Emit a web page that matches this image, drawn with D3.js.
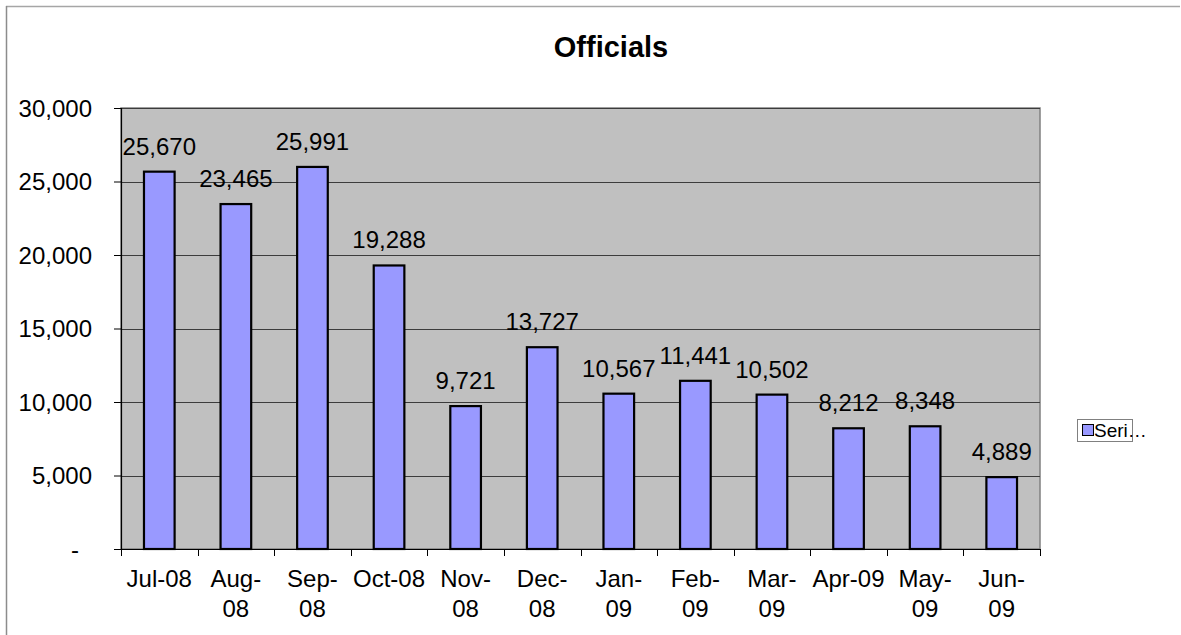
<!DOCTYPE html>
<html>
<head>
<meta charset="utf-8">
<script src="https://cdn.jsdelivr.net/npm/d3@7"></script>
<style>
  html, body { margin: 0; padding: 0; background: #fff; }
  svg { display: block; font-family: "Liberation Sans", Arial, sans-serif; }
</style>
</head>
<body>
<svg id="chart" width="1181" height="635"></svg>
<script>
// Monthly counts of officials, July 2008 – June 2009
const categories = ["Jul-08", "Aug-08", "Sep-08", "Oct-08", "Nov-08", "Dec-08",
                    "Jan-09", "Feb-09", "Mar-09", "Apr-09", "May-09", "Jun-09"];
const values = [25670, 23465, 25991, 19288, 9721, 13727,
                10567, 11441, 10502, 8212, 8348, 4889];
// Category labels as they wrap under each bar
const tickLines = [["Jul-08"], ["Aug-", "08"], ["Sep-", "08"], ["Oct-08"], ["Nov-", "08"], ["Dec-", "08"],
                   ["Jan-", "09"], ["Feb-", "09"], ["Mar-", "09"], ["Apr-09"], ["May-", "09"], ["Jun-", "09"]];
const yTicks = [0, 5000, 10000, 15000, 20000, 25000, 30000];
const seriesName = "Series1";
const title = "Officials";

const FS = 24; // body text size

const svg = d3.select("#chart");
const plot = { left: 121, right: 1040, top: 108, bottom: 549 };

// Outer chart frame
svg.append("line").attr("x1", 6).attr("y1", 6.5).attr("x2", 1180).attr("y2", 6.5)
  .attr("stroke", "#a6a6a6").attr("stroke-width", 1.5);
svg.append("line").attr("x1", 6.5).attr("y1", 6).attr("x2", 6.5).attr("y2", 635)
  .attr("stroke", "#8c8c8c").attr("stroke-width", 1.5);

const x = d3.scaleBand().domain(categories).range([plot.left, plot.right]).paddingInner(0.6).paddingOuter(0.3);
const xCat = d3.scaleBand().domain(categories).range([plot.left, plot.right]);
const y = d3.scaleLinear().domain([0, 30000]).range([plot.bottom, plot.top]);

// Plot background
svg.append("rect")
  .attr("x", plot.left).attr("y", plot.top)
  .attr("width", plot.right - plot.left).attr("height", plot.bottom - plot.top)
  .attr("fill", "#c0c0c0").attr("stroke", "#808080").attr("stroke-width", 1.5);

// Horizontal gridlines
svg.append("g").selectAll("line")
  .data(yTicks.filter(d => d > 0))
  .join("line")
  .attr("x1", plot.left).attr("x2", plot.right)
  .attr("y1", d => Math.round(y(d)) + 0.5).attr("y2", d => Math.round(y(d)) + 0.5)
  .attr("stroke", "#3c3c3c").attr("stroke-width", 1);

// Bars
svg.append("g").selectAll("rect")
  .data(values)
  .join("rect")
  .attr("x", (d, i) => x(categories[i]))
  .attr("y", d => y(d))
  .attr("width", x.bandwidth())
  .attr("height", d => y(0) - y(d))
  .attr("fill", "#9999ff")
  .attr("stroke", "#000").attr("stroke-width", 2.2);

// Value labels
const fmt = d3.format(",");
svg.append("g").selectAll("text")
  .data(values)
  .join("text")
  .attr("x", (d, i) => x(categories[i]) + x.bandwidth() / 2)
  .attr("y", d => y(d) - 17)
  .attr("text-anchor", "middle")
  .attr("font-size", FS)
  .attr("fill", "#000")
  .text(d => fmt(d));

// Y axis
const yAxis = d3.axisLeft(y).tickValues(yTicks).tickSize(7).tickPadding(22)
  .tickFormat(d => d === 0 ? "-" : fmt(d));
const gy = svg.append("g").attr("transform", `translate(${plot.left},0)`).call(yAxis);
gy.select(".domain").attr("stroke", "#000").attr("stroke-width", 1.2);
gy.selectAll(".tick line").attr("stroke", "#000");
gy.selectAll(".tick text").attr("font-size", FS).attr("fill", "#000")
  .attr("font-family", "Liberation Sans, Arial, sans-serif")
  .attr("dy", "0.35em")
  .attr("dx", (d) => d === 0 ? -13 : 0);

// X axis: ticks on category boundaries
svg.append("line").attr("x1", plot.left - 7).attr("x2", plot.right)
  .attr("y1", plot.bottom + 0.5).attr("y2", plot.bottom + 0.5)
  .attr("stroke", "#000").attr("stroke-width", 1.2);
svg.append("g").selectAll("line")
  .data(d3.range(categories.length + 1))
  .join("line")
  .attr("x1", i => Math.round(plot.left + i * xCat.step()) + 0.5)
  .attr("x2", i => Math.round(plot.left + i * xCat.step()) + 0.5)
  .attr("y1", plot.bottom).attr("y2", plot.bottom + 7)
  .attr("stroke", "#000");

const xl = svg.append("g").selectAll("text")
  .data(tickLines)
  .join("text")
  .attr("x", (d, i) => xCat(categories[i]) + xCat.bandwidth() / 2)
  .attr("y", 587)
  .attr("text-anchor", "middle")
  .attr("font-size", FS)
  .attr("fill", "#000");
xl.selectAll("tspan")
  .data(d => d)
  .join("tspan")
  .attr("x", function () { return this.parentNode.getAttribute("x"); })
  .attr("dy", (d, j) => j === 0 ? 0 : 30)
  .text(d => d);

// Title
svg.append("text")
  .attr("x", 611).attr("y", 57)
  .attr("text-anchor", "middle")
  .attr("font-size", 29).attr("font-weight", "bold")
  .text(title);

// Legend
const lg = svg.append("g").attr("transform", "translate(1077,419)");
lg.append("rect").attr("x", 0.5).attr("y", 0.5).attr("width", 55).attr("height", 22)
  .attr("fill", "#fff").attr("stroke", "#808080");
lg.append("rect").attr("x", 5.5).attr("y", 5.5).attr("width", 11).attr("height", 11)
  .attr("fill", "#9999ff").attr("stroke", "#000");
lg.append("text").attr("x", 17).attr("y", 18)
  .attr("font-size", 19).attr("fill", "#000")
  .text(seriesName.slice(0, 4) + "…");
</script>
</body>
</html>
